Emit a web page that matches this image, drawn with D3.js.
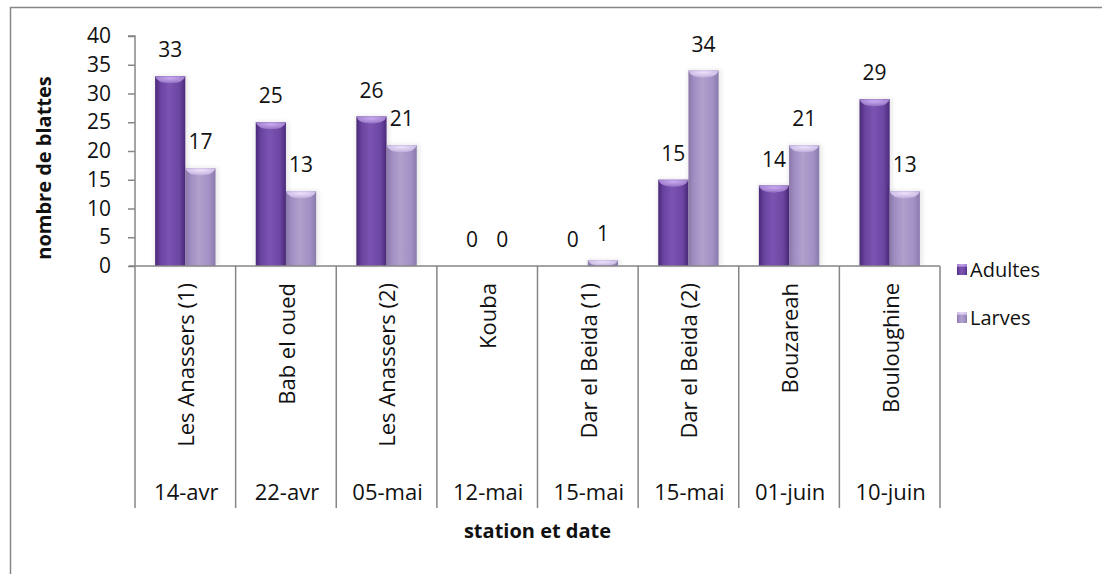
<!DOCTYPE html>
<html>
<head>
<meta charset="utf-8">
<script src="https://cdn.jsdelivr.net/npm/d3@7"></script>
<style>
  html, body { margin: 0; padding: 0; background: #fff; }
  svg { display: block; font-family: "Open Sans", "DejaVu Sans", sans-serif; }
</style>
</head>
<body>
<svg id="chart" width="1102" height="574"></svg>
<script>
// Sampling stations and dates
const stations = ["Les Anassers (1)", "Bab el oued", "Les Anassers (2)", "Kouba",
                  "Dar el Beida (1)", "Dar el Beida (2)", "Bouzareah", "Bouloughine"];
const dates = ["14-avr", "22-avr", "05-mai", "12-mai", "15-mai", "15-mai", "01-juin", "10-juin"];
// Cockroach counts per station
const adultes = [33, 25, 26, 0, 0, 15, 14, 29];
const larves  = [17, 13, 21, 0, 1, 34, 21, 13];
const seriesNames = ["Adultes", "Larves"];
const yTicks = [0, 5, 10, 15, 20, 25, 30, 35, 40];

const svg = d3.select("#chart");
const axisColor = "#868686";

const plot = { left: 135, right: 940, top: 36, bottom: 266 };

const x = d3.scaleBand().domain(d3.range(stations.length))
  .range([plot.left, plot.right]).paddingInner(0).paddingOuter(0);
const xs = d3.scaleBand().domain(seriesNames).range([0, x.bandwidth()])
  .paddingInner(0).paddingOuter(0.6667);
const y = d3.scaleLinear().domain([0, 40]).range([plot.bottom, plot.top]);

// Outer chart frame
svg.append("rect").attr("x", 10.5).attr("y", 7.5).attr("width", 1200).attr("height", 700)
  .attr("fill", "none").attr("stroke", axisColor).attr("stroke-width", 1.5);

// Gradients for cylinder-like bars
const defs = svg.append("defs");
const palettes = {
  Adultes: { body: ["#4a2878", "#6a44a0", "#7a54b0", "#6c46a2", "#4c2a7a"], cap: ["#9a78c8", "#c8aaf0"] },
  Larves:  { body: ["#8a78aa", "#a08ec2", "#b0a0cc", "#a290c4", "#8a7aac"], cap: ["#c6b6e2", "#ece0fa"] }
};
seriesNames.forEach(s => {
  const g = defs.append("linearGradient").attr("id", "body-" + s)
    .attr("x1", 0).attr("x2", 1).attr("y1", 0).attr("y2", 0);
  [0, 0.18, 0.45, 0.8, 1].forEach((o, i) =>
    g.append("stop").attr("offset", o).attr("stop-color", palettes[s].body[i]));
  const c = defs.append("radialGradient").attr("id", "cap-" + s)
    .attr("cx", 0.5).attr("cy", 0.3).attr("r", 0.6);
  c.append("stop").attr("offset", 0).attr("stop-color", palettes[s].cap[1]);
  c.append("stop").attr("offset", 1).attr("stop-color", palettes[s].cap[0]);
});
const blur = defs.append("filter").attr("id", "halo").attr("x", -0.5).attr("y", -0.5)
  .attr("width", 2).attr("height", 2);
blur.append("feGaussianBlur").attr("stdDeviation", 2);

// Bars
const rows = stations.map((st, i) => ({ i, Adultes: adultes[i], Larves: larves[i] }));
const groups = svg.append("g").selectAll("g").data(rows).join("g")
  .attr("transform", d => `translate(${x(d.i)},0)`);

seriesNames.forEach(s => {
  const bw = xs.bandwidth();
  const withBar = groups.filter(d => d[s] > 0);
  withBar.append("rect")
    .attr("x", xs(s) - 1).attr("y", d => y(d[s]) - 1)
    .attr("width", bw + 4).attr("height", d => y(0) - y(d[s]) + 1)
    .attr("fill", "#000").attr("opacity", 0.08).attr("filter", "url(#halo)");
  withBar.append("rect")
    .attr("x", xs(s)).attr("y", d => y(d[s]))
    .attr("width", bw).attr("height", d => y(0) - y(d[s]))
    .attr("fill", `url(#body-${s})`);
  // top cap, lower half of an ellipse
  withBar.append("path")
    .attr("d", d => {
      const h = Math.min(7, y(0) - y(d[s]));
      const x0 = xs(s), x1 = xs(s) + bw, yt = y(d[s]);
      return `M${x0},${yt} L${x1},${yt} Q${x1 - 2},${yt + h} ${x0 + bw / 2},${yt + h} Q${x0 + 2},${yt + h} ${x0},${yt} Z`;
    })
    .attr("fill", `url(#cap-${s})`);
  // value labels
  groups.append("text")
    .attr("x", xs(s) + bw / 2).attr("y", d => y(d[s]) - 19)
    .attr("text-anchor", "middle").attr("font-size", 21).attr("fill", "#111")
    .text(d => d[s]);
});

// Y axis
const yAxis = d3.axisLeft(y).tickValues(yTicks).tickSize(7).tickPadding(17);
const ya = svg.append("g").attr("transform", `translate(${plot.left},0)`).call(yAxis);
ya.select(".domain").attr("stroke", axisColor).attr("stroke-width", 1.5).attr("d", `M-7,${plot.top}H0V${plot.bottom}`);
ya.selectAll(".tick line").attr("stroke", axisColor).attr("stroke-width", 1.5);
ya.selectAll(".tick text").attr("font-size", 21).attr("fill", "#111")
  .attr("font-family", "\"Open Sans\", sans-serif");

// X axis line and category separators
svg.append("line").attr("x1", plot.left - 6).attr("x2", plot.right)
  .attr("y1", plot.bottom).attr("y2", plot.bottom)
  .attr("stroke", axisColor).attr("stroke-width", 1.5);
const bounds = d3.range(stations.length + 1).map(i => i === stations.length ? plot.right : x(i));
svg.append("g").selectAll("line").data(bounds).join("line")
  .attr("x1", d => d).attr("x2", d => d).attr("y1", plot.bottom).attr("y2", 508)
  .attr("stroke", axisColor).attr("stroke-width", 1.5);

// Station names (rotated) and dates
svg.append("g").selectAll("text").data(stations).join("text")
  .attr("transform", (d, i) => `translate(${x(i) + x.bandwidth() / 2 + 1},283) rotate(-90)`)
  .attr("text-anchor", "end").attr("dy", "0.36em")
  .attr("font-size", 22).attr("fill", "#111").text(d => d);
svg.append("g").selectAll("text").data(dates).join("text")
  .attr("x", (d, i) => x(i) + x.bandwidth() / 2 + 1).attr("y", 500)
  .attr("text-anchor", "middle").attr("font-size", 22).attr("fill", "#111").text(d => d);

// Axis titles
svg.append("text").attr("transform", "translate(51,168) rotate(-90)")
  .attr("text-anchor", "middle").attr("font-size", 20).attr("font-weight", "bold")
  .attr("fill", "#111").text("nombre de blattes");
svg.append("text").attr("x", (plot.left + plot.right) / 2).attr("y", 538)
  .attr("text-anchor", "middle").attr("font-size", 20).attr("font-weight", "bold")
  .attr("fill", "#111").text("station et date");

// Legend
const legend = svg.append("g").selectAll("g").data(seriesNames).join("g")
  .attr("transform", (d, i) => `translate(957,${270 + i * 48})`);
legend.append("rect").attr("x", 0).attr("y", -6).attr("width", 10).attr("height", 11)
  .attr("fill", d => `url(#body-${d})`);
legend.append("rect").attr("x", 0).attr("y", -6).attr("width", 10).attr("height", 3)
  .attr("fill", d => `url(#cap-${d})`);
legend.append("text").attr("x", 13).attr("dy", "0.36em").attr("font-size", 20)
  .attr("fill", "#111").text(d => d);
</script>
</body>
</html>
